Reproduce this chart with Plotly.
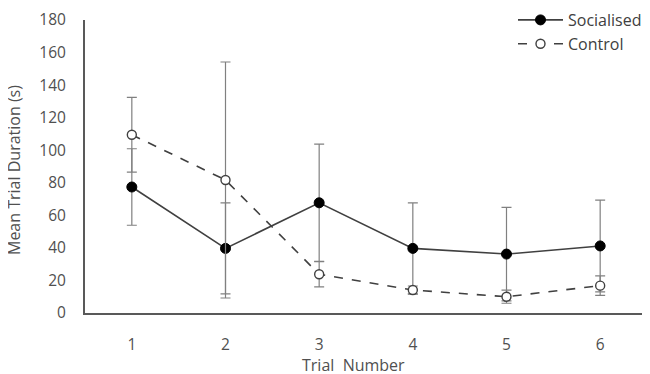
import plotly.graph_objects as go

trials = ["1", "2", "3", "4", "5", "6"]
social_mean = [77.4, 39.7, 67.7, 39.7, 36.2, 41.2]
social_err = [23.5, 28.0, 36.0, 28.0, 28.7, 28.2]
control_mean = [109.5, 81.7, 23.8, 14.1, 10.0, 16.8]
control_err = [23.0, 72.5, 7.7, 2.5, 4.0, 6.0]
y_ticks = [0, 20, 40, 60, 80, 100, 120, 140, 160, 180]

FONT = "Open Sans"
line_col = "#404040"
err_col = "#808080"
txt_col = "#505050"

fig = go.Figure()
fig.add_trace(go.Scatter(
    x=trials, y=social_mean, name="Socialised", mode="lines+markers",
    line=dict(color=line_col, width=1.6),
    marker=dict(symbol="circle", size=10, color="black", line=dict(color="black", width=1)),
    error_y=dict(type="data", array=social_err, visible=True, color=err_col, thickness=1.2, width=5),
))
fig.add_trace(go.Scatter(
    x=trials, y=control_mean, name="Control", mode="lines+markers",
    line=dict(color=line_col, width=1.6, dash="dash"),
    marker=dict(symbol="circle", size=9, color="white", line=dict(color=line_col, width=1.4)),
    error_y=dict(type="data", array=control_err, visible=True, color=err_col, thickness=1.2, width=5),
))

# page body has an 8px margin, so the figure is sized to fill the rest of the window
fig.update_layout(
    width=642, height=366,
    margin=dict(l=77, r=3, t=12, b=61, autoexpand=False),
    paper_bgcolor="white", plot_bgcolor="white",
    font=dict(family=FONT, size=15, color=txt_col),
    showlegend=True,
    legend=dict(
        x=1.0, xanchor="right",
        y=1.058, yanchor="top",
        bgcolor="rgba(0,0,0,0)", font=dict(size=16, color="#404040"),
        itemwidth=45, tracegroupgap=0,
    ),
    xaxis=dict(
        type="category", range=[-0.5, 5.5],
        showline=True, linecolor="#595959", linewidth=2,
        showgrid=False, zeroline=False,
        ticks="outside", ticklen=16, tickcolor="rgba(0,0,0,0)",
        tickfont=dict(size=15.5, color=txt_col),
    ),
    yaxis=dict(
        range=[0, 180], tickvals=y_ticks,
        showline=True, linecolor="#595959", linewidth=2,
        showgrid=False, zeroline=False,
        ticks="outside", ticklen=14, tickcolor="rgba(0,0,0,0)",
        tickfont=dict(size=15.5, color=txt_col),
    ),
    annotations=[
        dict(text="Trial  Number", xref="paper", yref="paper", x=(353 - 85) / 562, y=-52 / 293,
             xanchor="center", yanchor="middle", showarrow=False, font=dict(size=16, color=txt_col)),
        dict(text="Mean Trial Duration (s)", xref="paper", yref="paper", x=-71 / 562, y=(313 - 170) / 293,
             xanchor="center", yanchor="middle", textangle=-90, showarrow=False,
             font=dict(size=16, color=txt_col)),
    ],
)

fig.write_html("out.html")
